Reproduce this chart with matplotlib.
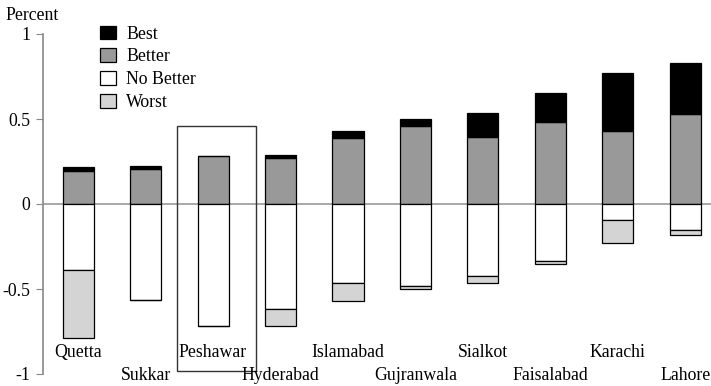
import matplotlib
matplotlib.use("Agg")
import matplotlib.pyplot as plt
import numpy as np
from matplotlib.patches import Rectangle

cities = ["Quetta", "Sukkar", "Peshawar", "Hyderabad", "Islamabad",
          "Gujranwala", "Sialkot", "Faisalabad", "Karachi", "Lahore"]
best = [0.02, 0.02, 0.0, 0.017, 0.039, 0.043, 0.141, 0.169, 0.342, 0.298]
better = [0.196, 0.204, 0.284, 0.269, 0.39, 0.459, 0.392, 0.482, 0.431, 0.529]
no_better = [0.386, 0.567, 0.716, 0.62, 0.465, 0.484, 0.422, 0.337, 0.094, 0.153]
worst = [0.40, 0.0, 0.0, 0.098, 0.108, 0.018, 0.041, 0.018, 0.133, 0.027]
yticks = [1, 0.5, 0, -0.5, -1]
ytick_labels = ["1", "0.5", "0", "-0.5", "-1"]

plt.rcParams['font.family'] = ['Liberation Serif', 'DejaVu Serif']
fs = 12.8

fig = plt.figure(figsize=(7.11, 3.86), dpi=100)
ax = fig.add_axes([43/711, 12/386, (711-43)/711, 340/386])

x = np.arange(len(cities))
w = 0.46
better_a = np.array(better)
best_a = np.array(best)
nb = -np.array(no_better)
wo = -np.array(worst)

ax.axhline(0, color="#999999", lw=1.2, zorder=1)
ax.bar(x, better_a, w, color="#999999", edgecolor="black", lw=0.9, label="Better", zorder=2)
ax.bar(x, best_a, w, bottom=better_a, color="black", edgecolor="black", lw=0.9, label="Best", zorder=2)
ax.bar(x, nb, w, color="white", edgecolor="black", lw=0.9, label="No Better", zorder=2)
ax.bar(x, wo, w, bottom=nb, color="#d4d4d4", edgecolor="black", lw=0.9, label="Worst", zorder=2)

# highlight box around Peshawar
ax.add_patch(Rectangle((2 - 0.54, -0.985), 1.18, 0.46 + 0.985, fill=False,
                       edgecolor="#333333", lw=1.0, clip_on=False, zorder=3))

ax.set_xlim(-0.52, 9.38)
ax.set_ylim(-1, 1)
ax.set_yticks(yticks)
ax.set_yticklabels(ytick_labels, fontsize=fs)
ax.tick_params(axis='y', direction='out', length=5, color="#888888", pad=4)
ax.set_xticks([])
for s in ["top", "right", "bottom"]:
    ax.spines[s].set_visible(False)
ax.spines["left"].set_color("#888888")
ax.spines["left"].set_linewidth(1.2)

for i, c in enumerate(cities):
    yy = -0.876 if i % 2 == 0 else -1.01
    ax.text(i, yy, c, ha="center", va="center", fontsize=fs, clip_on=False)

fig.text(5/711, 1 - 16/386, "Percent", fontsize=fs, ha="left", va="center")

handles = {}
for lab, col in [("Best", "black"), ("Better", "#999999"), ("No Better", "white"), ("Worst", "#d4d4d4")]:
    handles[lab] = Rectangle((0, 0), 1, 1, facecolor=col, edgecolor="black", lw=0.9)
leg = ax.legend([handles[k] for k in ["Best", "Better", "No Better", "Worst"]],
                ["Best", "Better", "No Better", "Worst"],
                loc="upper left", bbox_to_anchor=(0.062, 1.072), frameon=False,
                fontsize=fs, handlelength=0.85, handleheight=0.8, labelspacing=0.33,
                handletextpad=0.6)

fig.savefig("out.png", dpi=100)
